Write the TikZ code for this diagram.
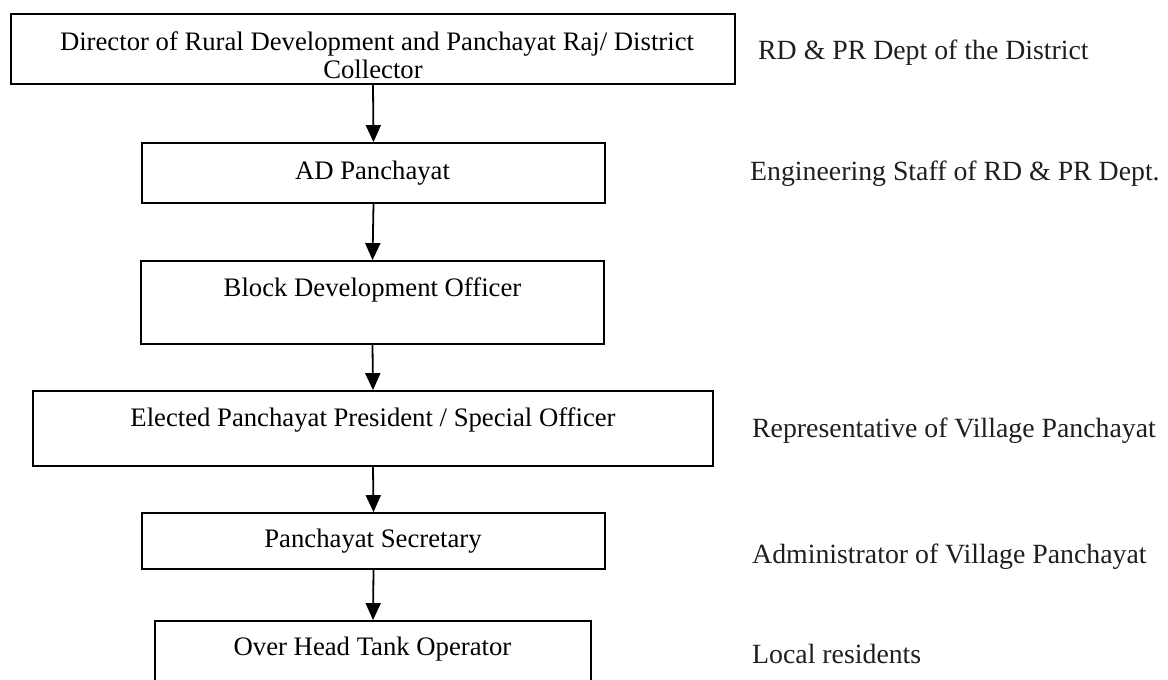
\documentclass[tikz,border=0pt]{standalone}
\usepackage{fontspec}
\setmainfont{Liberation Serif}
\usetikzlibrary{arrows.meta}
\begin{document}
\begin{tikzpicture}[x=1pt,y=-1pt,
  officebox/.style={draw=black, line width=1.8pt, inner sep=0pt},
  boxtext/.style={anchor=base, inner sep=0pt, font=\fontsize{26.7}{28}\selectfont},
  roletext/.style={anchor=base west, inner sep=0pt, font=\fontsize{27.8}{30}\selectfont, text=black!88},
  flow/.style={line width=1.8pt, -{Triangle[length=17pt,width=15pt]}}]

% page area; the lowest box runs off the bottom edge
\fill[white] (0,0) rectangle (1168,680);
\clip (0,0) rectangle (1168,680);

% chain of offices
\node[officebox, minimum width=724pt, minimum height=70pt] (b1) at (373,49) {};
\node[officebox, minimum width=463pt, minimum height=60pt] (b2) at (373.5,173) {};
\node[officebox, minimum width=463pt, minimum height=83pt] (b3) at (372.5,302.5) {};
\node[officebox, minimum width=680pt, minimum height=75pt] (b4) at (373,428.5) {};
\node[officebox, minimum width=463pt, minimum height=56pt] (b5) at (373.5,541) {};
\node[officebox, minimum width=436pt, minimum height=90pt] (b6) at (373,666) {};

\node[boxtext] (t1a) at (377,50) {Director of Rural Development and Panchayat Raj/ District};
\node[boxtext] (t1b) at (373,78) {Collector};
\node[boxtext] (t2) at (372.5,179) {AD Panchayat};
\node[boxtext] (t3) at (372.5,296) {Block Development Officer};
\node[boxtext] (t4) at (373,426) {Elected Panchayat President / Special Officer};
\node[boxtext] (t5) at (373,547) {Panchayat Secretary};
\node[boxtext] (t6) at (372.5,655) {Over Head Tank Operator};

% reporting arrows
\draw[flow] (b1.south) -- (b2.north);
\draw[flow] (b2.south) -- (b3.north);
\draw[flow] (b3.south) -- (b4.north);
\draw[flow] (b4.south) -- (b5.north);
\draw[flow] (b5.south) -- (b6.north);

% role descriptions
\node[roletext] (r1) at (758,59) {RD \& PR Dept of the District};
\node[roletext] (r2) at (750,180) {Engineering Staff of RD \& PR Dept.};
\node[roletext] (r4) at (752,437) {Representative of Village Panchayat};
\node[roletext] (r5) at (752,563) {Administrator of Village Panchayat};
\node[roletext] (r6) at (752,663) {Local residents};
\end{tikzpicture}
\end{document}
